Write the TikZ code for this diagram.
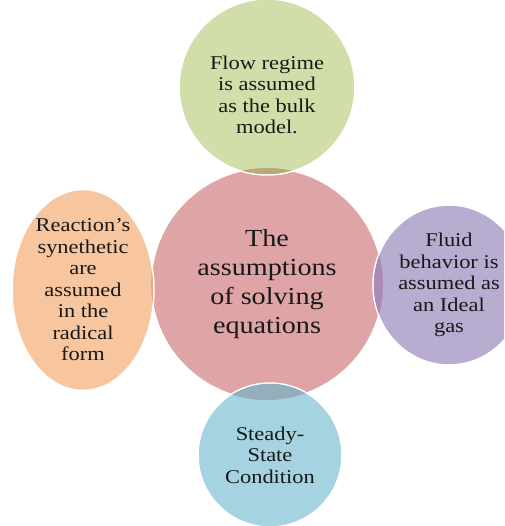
\documentclass[tikz,border=0pt]{standalone}
\usepackage{fontspec}
\setmainfont[FakeStretch=1.15]{Liberation Serif}
\usetikzlibrary{shapes.geometric}

\definecolor{corefill}{HTML}{DFA4A5}
\definecolor{flowfill}{HTML}{D2DEA9}
\definecolor{fluidfill}{HTML}{B8ACD1}
\definecolor{reactfill}{HTML}{F8C69E}
\definecolor{steadyfill}{HTML}{A5D3E1}
\definecolor{flowlens}{HTML}{B8A97B}
\definecolor{fluidlens}{HTML}{A98BB6}
\definecolor{reactlens}{HTML}{EDA78A}
\definecolor{steadylens}{HTML}{95AEBB}

\begin{document}
\begin{tikzpicture}[x=1pt,y=-1pt]
		 \tikzstyle{bubble}=[draw=white,line width=1.5pt,inner sep=0pt,align=center,text=black!90]
		 \tikzstyle{small}=[font=\fontsize{19.5}{21.5}\selectfont]
		 \clip (0,0) rectangle (504,526);
		 % middle circle
		 \node [bubble,circle,fill=corefill,minimum size=232pt,font=\fontsize{24.5}{29}\selectfont] (core) at (267,284) {The\\assumptions\\of solving\\equations};
		 % the four around it
		 \node [bubble,circle,fill=flowfill,minimum size=176pt] (flow) at (267,87) {};
		 \node [small,align=center,inner sep=0pt,text=black!90] (flowtext) at (267,95) {Flow regime\\is assumed\\as the bulk\\model.};
		 \node [bubble,small,ellipse,fill=fluidfill,minimum width=152pt,minimum height=160pt] (fluid) at (449,285) {Fluid\\behavior is\\assumed as\\an Ideal\\gas};
		 \node [bubble,small,ellipse,fill=reactfill,minimum width=142pt,minimum height=194pt] (react) at (83,290) {Reaction's\\synethetic\\are\\assumed\\in the\\radical\\form};
		 \node [bubble,small,circle,fill=steadyfill,minimum size=144pt] (steady) at (270,455) {Steady-\\State\\Condition};
		 % overlaps with the middle circle
		 \begin{scope}
		 \clip (core) circle (116pt);
		 \fill [flowlens] (flow) circle (87.2pt);
		 \fill [fluidlens] (fluid) ellipse [x radius=75.2pt,y radius=79.2pt];
		 \fill [reactlens] (react) ellipse [x radius=70.2pt,y radius=96.2pt];
		 \fill [steadylens] (steady) circle (71.2pt);
		 \end{scope}
\end{tikzpicture}
\end{document}
